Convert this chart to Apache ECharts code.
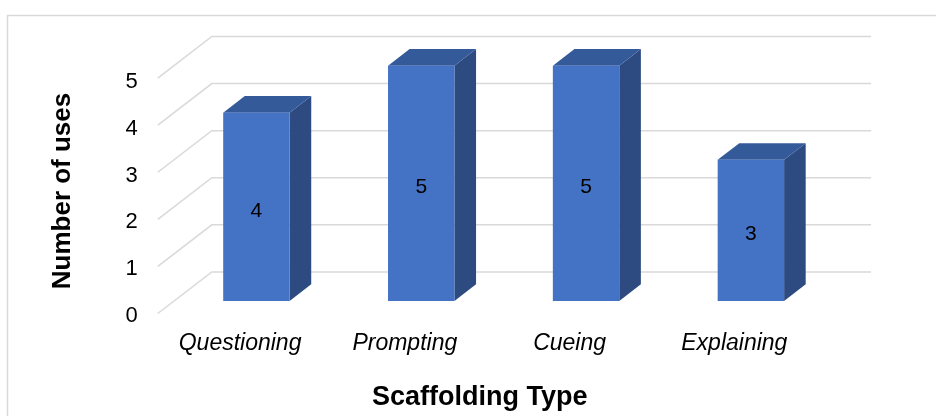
<!DOCTYPE html>
<html>
<head>
<meta charset="utf-8">
<title>Scaffolding Type</title>
<script src="https://cdn.jsdelivr.net/npm/echarts@6/dist/echarts.min.js"></script>
<style>
  html, body { margin: 0; padding: 0; background: #fff; }
  #chart { width: 936px; height: 416px; }
</style>
</head>
<body>
<div id="chart"></div>
<script>
  var categories = ['Questioning', 'Prompting', 'Cueing', 'Explaining'];
  var uses = [4, 5, 5, 3];
  var yTicks = [0, 1, 2, 3, 4, 5];

  // depth of the 3D box (floor goes back along this vector)
  var DX = 54, DY = -41.6;
  var FONT = 'Liberation Sans, Arial, sans-serif';

  var chart = echarts.init(document.getElementById('chart'));

  function renderGrid(params, api) {
    var cs = params.coordSys;
    var y = api.coord([0, api.value(1)])[1];
    var xl = cs.x, xr = cs.x + cs.width;
    return {
      type: 'polyline',
      shape: {
        points: [
          [xl - 0.3 * DX, y - 0.3 * DY],
          [xl + 0.7 * DX, y + 0.7 * DY],
          [xr + 0.7 * DX, y + 0.7 * DY]
        ]
      },
      style: { stroke: '#D9D9D9', lineWidth: 1.5, fill: null },
      silent: true
    };
  }

  function renderBar(params, api) {
    var idx = api.value(0);
    var val = api.value(1);
    var base = api.coord([idx, 0]);
    var top = api.coord([idx, val]);
    var w = api.size([1, 0])[0] * 0.403;
    var xl = base[0] - w / 2, xr = base[0] + w / 2;
    var yb = base[1], yt = top[1];
    var dx = 0.4 * DX, dy = 0.4 * DY;
    return {
      type: 'group',
      children: [
        {
          type: 'polygon',
          shape: { points: [[xr, yt], [xr + dx, yt + dy], [xr + dx, yb + dy], [xr, yb]] },
          style: { fill: '#2D4B80' }
        },
        {
          type: 'polygon',
          shape: { points: [[xl, yt], [xr, yt], [xr + dx, yt + dy], [xl + dx, yt + dy]] },
          style: { fill: '#345A9A' }
        },
        {
          type: 'rect',
          shape: { x: xl, y: yt, width: w, height: yb - yt },
          style: { fill: '#4472C4' }
        },
        {
          type: 'text',
          style: {
            text: String(val),
            x: base[0],
            y: (yt + yb) / 2 + 4,
            align: 'center',
            verticalAlign: 'middle',
            fill: '#000',
            font: '21px ' + FONT
          }
        }
      ]
    };
  }

  chart.setOption({
    backgroundColor: '#fff',
    animation: false,
    graphic: [{
      type: 'rect',
      shape: { x: 7.5, y: 15.5, width: 1000, height: 500 },
      style: { fill: null, stroke: '#D9D9D9', lineWidth: 1.5 },
      silent: true
    }],
    grid: [
      // plane of the bar fronts
      { left: 174, right: 102.7, top: 65.65, bottom: 115 },
      // front edge of the floor (axis labels)
      { left: 157.7, right: 119.3, top: 82, bottom: 99.7 }
    ],
    xAxis: [
      { gridIndex: 0, type: 'category', data: categories, show: false },
      {
        gridIndex: 1,
        type: 'category',
        data: categories,
        axisLine: { show: false },
        axisTick: { show: false },
        axisLabel: {
          margin: 16,
          fontFamily: FONT,
          fontSize: 23,
          fontStyle: 'italic',
          color: '#000'
        },
        name: 'Scaffolding Type',
        nameLocation: 'middle',
        nameGap: 68,
        nameTextStyle: {
          fontFamily: FONT,
          fontSize: 27,
          fontWeight: 'bold',
          color: '#000',
          padding: [0, 15, 0, 0]
        }
      }
    ],
    yAxis: [
      { gridIndex: 0, type: 'value', min: 0, max: 5, interval: 1, show: false },
      {
        gridIndex: 1,
        type: 'value',
        min: 0,
        max: 5,
        interval: 1,
        axisLine: { show: false },
        axisTick: { show: false },
        splitLine: { show: false },
        axisLabel: {
          margin: 20,
          fontFamily: FONT,
          fontSize: 22,
          color: '#000'
        },
        name: 'Number of uses',
        nameLocation: 'middle',
        nameRotate: 90,
        nameGap: 82,
        nameTextStyle: {
          fontFamily: FONT,
          fontSize: 26,
          fontWeight: 'bold',
          color: '#000',
          padding: [0, 0, 0, 16]
        }
      }
    ],
    series: [
      {
        type: 'custom',
        name: 'grid',
        xAxisIndex: 0,
        yAxisIndex: 0,
        z: 1,
        renderItem: renderGrid,
        data: yTicks.map(function (t) { return [0, t]; }),
        silent: true
      },
      {
        type: 'custom',
        name: 'Number of uses',
        xAxisIndex: 0,
        yAxisIndex: 0,
        z: 2,
        renderItem: renderBar,
        data: uses.map(function (v, i) { return [i, v]; })
      }
    ]
  });
</script>
</body>
</html>
